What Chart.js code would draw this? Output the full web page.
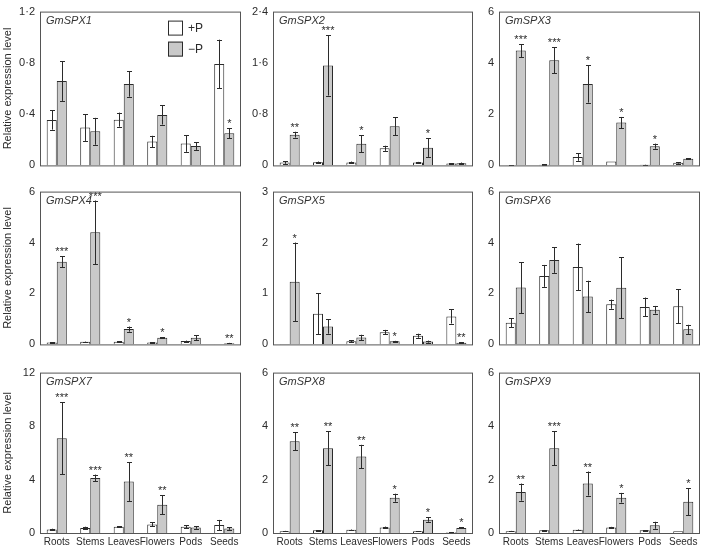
<!DOCTYPE html>
<html>
<head>
<meta charset="utf-8">
<script src="https://cdn.jsdelivr.net/npm/chart.js@4.4.0/dist/chart.umd.min.js"></script>
<style>
  html, body { margin: 0; padding: 0; background: #fff; }
  #wrap { position: relative; width: 702px; height: 549px; }
  #wrap canvas { position: absolute; }
</style>
</head>
<body>
<div id="wrap"></div>
<script>
const tissues = ['Roots', 'Stems', 'Leaves', 'Flowers', 'Pods', 'Seeds'];
const genes = ['GmSPX1', 'GmSPX2', 'GmSPX3', 'GmSPX4', 'GmSPX5', 'GmSPX6', 'GmSPX7', 'GmSPX8', 'GmSPX9'];
const yMax = [1.2, 2.4, 6, 6, 3, 6, 12, 6, 6];
const yStep = [0.4, 0.8, 2, 2, 1, 2, 4, 2, 2];

// +P means, one row per gene
const plusP = [
  [0.354, 0.296, 0.357, 0.186, 0.171, 0.791],
  [0.045, 0.05, 0.045, 0.267, 0.045, 0.03],
  [0.01, 0.03, 0.33, 0.15, 0.03, 0.1],
  [0.07, 0.1, 0.1, 0.07, 0.13, 0.01],
  [0.01, 0.6, 0.06, 0.24, 0.17, 0.55],
  [0.85, 2.69, 3.04, 1.58, 1.47, 1.5],
  [0.27, 0.37, 0.47, 0.64, 0.47, 0.59],
  [0.07, 0.1, 0.12, 0.21, 0.07, 0.03],
  [0.07, 0.1, 0.12, 0.21, 0.1, 0.07]
];
const plusPErr = [
  [0.075, 0.105, 0.055, 0.045, 0.065, 0.19],
  [0.02, 0.01, 0.015, 0.04, 0.01, 0.005],
  [0.005, 0.01, 0.15, 0, 0.005, 0.03],
  [0.01, 0.01, 0.02, 0.01, 0.02, 0],
  [0, 0.4, 0.02, 0.045, 0.04, 0.14],
  [0.17, 0.43, 0.92, 0.18, 0.37, 0.66],
  [0.05, 0.1, 0.05, 0.15, 0.1, 0.39],
  [0.01, 0.01, 0.01, 0.03, 0.005, 0.005],
  [0.01, 0.01, 0.01, 0.02, 0.01, 0]
];
// −P means
const minusP = [
  [0.658, 0.266, 0.636, 0.394, 0.151, 0.251],
  [0.48, 1.56, 0.337, 0.61, 0.277, 0.035],
  [4.48, 4.1, 3.18, 1.67, 0.75, 0.26],
  [3.25, 4.4, 0.6, 0.26, 0.26, 0.05],
  [1.23, 0.35, 0.135, 0.06, 0.055, 0.03],
  [2.23, 3.31, 1.88, 2.22, 1.36, 0.59],
  [7.09, 4.12, 3.85, 2.11, 0.42, 0.34],
  [3.43, 3.17, 2.86, 1.32, 0.5, 0.19],
  [1.53, 3.17, 1.85, 1.32, 0.29, 1.17]
];
const minusPErr = [
  [0.155, 0.105, 0.1, 0.075, 0.03, 0.038],
  [0.045, 0.47, 0.135, 0.14, 0.145, 0.01],
  [0.25, 0.5, 0.73, 0.22, 0.1, 0.02],
  [0.21, 1.25, 0.1, 0.02, 0.09, 0.01],
  [0.77, 0.14, 0.055, 0.01, 0.02, 0.01],
  [1.0, 0.5, 0.62, 1.2, 0.15, 0.18],
  [2.7, 0.25, 1.45, 0.71, 0.1, 0.1],
  [0.33, 0.63, 0.44, 0.15, 0.08, 0.02],
  [0.32, 0.64, 0.45, 0.18, 0.13, 0.5]
];
// significance marks over the −P bars
const stars = [
  ['', '', '', '', '', '*'],
  ['**', '***', '*', '', '*', ''],
  ['***', '***', '*', '*', '*', ''],
  ['***', '***', '*', '*', '', '**'],
  ['*', '', '', '*', '', '**'],
  ['', '', '', '', '', ''],
  ['***', '***', '**', '**', '', ''],
  ['**', '**', '**', '*', '*', '*'],
  ['**', '***', '**', '*', '', '*']
];

// layout of the 3x3 grid (plot boxes in page pixels)
const colCanvasLeft = [0, 243, 474];
const colPlotLeft = [40, 273, 499];
const colPlotRight = [241, 473, 700];
const rowPlotTop = [9, 189, 370];
const rowPlotBottom = [169, 348, 533];

const FONT = "'Liberation Sans', Arial, Helvetica, sans-serif";
const INK = '#2b2b2b';

function fmtTick(v) {
  if (Math.abs(v - Math.round(v)) < 1e-9) return String(Math.round(v));
  return v.toFixed(1).replace('.', '\u00b7');
}

const panelDecor = {
  id: 'panelDecor',
  afterDatasetsDraw(chart, args, opts) {
    const ctx = chart.ctx;
    const area = chart.chartArea;
    const ys = chart.scales.y;
    ctx.save();
    // error bars
    ctx.strokeStyle = INK;
    ctx.lineWidth = 1;
    chart.data.datasets.forEach((ds, di) => {
      const meta = chart.getDatasetMeta(di);
      meta.data.forEach((bar, i) => {
        const v = ds.data[i], e = ds.errors[i];
        if (!e) return;
        const x = Math.round(bar.x) + 0.5;
        const top = ys.getPixelForValue(v + e);
        const bot = ys.getPixelForValue(Math.max(v - e, 0));
        ctx.beginPath();
        ctx.moveTo(x, top); ctx.lineTo(x, bot);
        ctx.moveTo(x - 2.5, Math.round(top) + 0.5); ctx.lineTo(x + 2.5, Math.round(top) + 0.5);
        ctx.moveTo(x - 2.5, Math.round(bot) + 0.5); ctx.lineTo(x + 2.5, Math.round(bot) + 0.5);
        ctx.stroke();
      });
    });
    // significance stars on −P bars
    const mds = chart.data.datasets[1];
    const mmeta = chart.getDatasetMeta(1);
    ctx.fillStyle = INK;
    ctx.font = '11px ' + FONT;
    ctx.textAlign = 'center';
    ctx.textBaseline = 'alphabetic';
    mmeta.data.forEach((bar, i) => {
      const s = opts.stars[i];
      if (!s) return;
      const top = ys.getPixelForValue(mds.data[i] + mds.errors[i]);
      ctx.fillText(s, bar.x, top - 1);
    });
    // frame
    ctx.strokeStyle = '#555';
    ctx.strokeRect(area.left + 0.5, area.top + 0.5, area.right - area.left - 1, area.bottom - area.top);
    // gene name
    ctx.fillStyle = '#333';
    ctx.font = 'italic 11px ' + FONT;
    ctx.textAlign = 'left';
    ctx.textBaseline = 'middle';
    ctx.fillText(opts.title, area.left + 6, area.top + 9);
    // legend
    if (opts.legend) {
      chart.data.datasets.forEach((ds, di) => {
        const lx = area.left + 128, ly = area.top + 9 + di * 21;
        ctx.fillStyle = ds.backgroundColor;
        ctx.fillRect(lx, ly, 15, 15);
        ctx.strokeStyle = INK;
        ctx.strokeRect(lx + 0.5, ly + 0.5, 14, 14);
        ctx.fillStyle = INK;
        ctx.font = '12px ' + FONT;
        ctx.fillText(ds.label, lx + 20, ly + 8);
      });
    }
    ctx.restore();
  }
};

const wrap = document.getElementById('wrap');

genes.forEach((gene, g) => {
  const col = g % 3, row = Math.floor(g / 3);
  const lastRow = row === 2;
  const cLeft = colCanvasLeft[col];
  const cTop = rowPlotTop[row] - 9;
  const xAxisH = lastRow ? 16 : 8;
  const w = colPlotRight[col] + 1 - cLeft;
  const h = rowPlotBottom[row] - cTop + xAxisH;
  const yAxisW = colPlotLeft[col] - cLeft;

  const canvas = document.createElement('canvas');
  canvas.width = w; canvas.height = h;
  canvas.style.left = cLeft + 'px';
  canvas.style.top = cTop + 'px';
  canvas.style.width = w + 'px';
  canvas.style.height = h + 'px';
  wrap.appendChild(canvas);

  new Chart(canvas, {
    type: 'bar',
    data: {
      labels: tissues,
      datasets: [
        { label: '+P', data: plusP[g], errors: plusPErr[g], backgroundColor: '#ffffff',
          borderColor: INK, borderWidth: 1, categoryPercentage: 0.6, barPercentage: 1.0 },
        { label: '\u2212P', data: minusP[g], errors: minusPErr[g], backgroundColor: '#c9c9c9',
          borderColor: INK, borderWidth: 1, categoryPercentage: 0.6, barPercentage: 1.0 }
      ]
    },
    options: {
      responsive: false,
      animation: false,
      devicePixelRatio: 1,
      layout: { padding: { top: 9, right: 1, bottom: 0, left: 0 } },
      plugins: {
        legend: { display: false },
        tooltip: { enabled: false },
        panelDecor: { title: gene, stars: stars[g], legend: g === 0 }
      },
      scales: {
        x: {
          grid: { display: false, drawTicks: false },
          border: { display: false },
          ticks: { display: lastRow, color: INK, padding: 3, maxRotation: 0, minRotation: 0,
                   autoSkip: false, font: { family: FONT, size: 10 } },
          afterFit(scale) { scale.height = xAxisH; }
        },
        y: {
          min: 0, max: yMax[g],
          grid: { display: false, drawTicks: false },
          border: { display: false },
          ticks: { stepSize: yStep[g], color: INK, padding: 5, font: { family: FONT, size: 11 }, callback: fmtTick },
          title: { display: col === 0, text: 'Relative expression level', color: INK,
                   padding: { top: 1, bottom: 0 }, font: { family: FONT, size: 11 } },
          afterFit(scale) { scale.width = yAxisW; }
        }
      }
    },
    plugins: [panelDecor]
  });
});
</script>
</body>
</html>
